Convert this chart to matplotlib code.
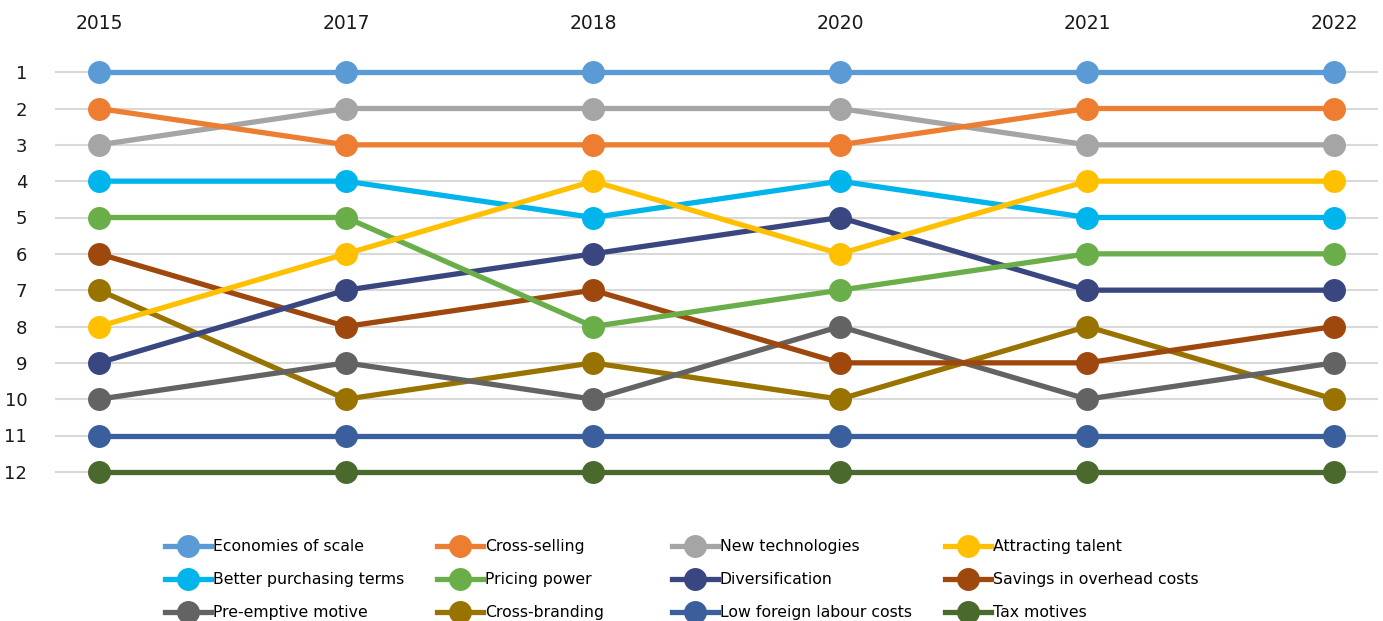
import matplotlib
matplotlib.use("Agg")
import matplotlib.pyplot as plt
from matplotlib.lines import Line2D

# Data
years = ["2015", "2017", "2018", "2020", "2021", "2022"]
ranks = list(range(1, 13))

labels = [
    "Economies of scale", "Cross-selling", "New technologies", "Attracting talent",
    "Better purchasing terms", "Pricing power", "Diversification", "Savings in overhead costs",
    "Pre-emptive motive", "Cross-branding", "Low foreign labour costs", "Tax motives",
]
economies_of_scale = [1, 1, 1, 1, 1, 1]
cross_selling = [2, 3, 3, 3, 2, 2]
new_technologies = [3, 2, 2, 2, 3, 3]
attracting_talent = [8, 6, 4, 6, 4, 4]
better_purchasing = [4, 4, 5, 4, 5, 5]
pricing_power = [5, 5, 8, 7, 6, 6]
diversification = [9, 7, 6, 5, 7, 7]
savings_overhead = [6, 8, 7, 9, 9, 8]
pre_emptive = [10, 9, 10, 8, 10, 9]
cross_branding = [7, 10, 9, 10, 8, 10]
low_foreign_labour = [11, 11, 11, 11, 11, 11]
tax_motives = [12, 12, 12, 12, 12, 12]

series = [economies_of_scale, cross_selling, new_technologies, attracting_talent,
          better_purchasing, pricing_power, diversification, savings_overhead,
          pre_emptive, cross_branding, low_foreign_labour, tax_motives]
colors = ["#5B9BD5", "#ED7D31", "#A5A5A5", "#FFC000",
          "#00B4EC", "#6AAE4A", "#3A4680", "#9E480E",
          "#636363", "#997300", "#3A5F9C", "#4A6A2D"]

plt.rcParams["font.family"] = ["DejaVu Sans"]

fig = plt.figure(figsize=(13.83, 6.21), dpi=100)
ax = fig.add_axes([55 / 1383, 1 - 490 / 621, (1378 - 55) / 1383, (490 - 54) / 621])

x = list(range(len(years)))
# draw lower ranks first so top series sit above
for vals, col in reversed(list(zip(series, colors))):
    ax.plot(x, vals, color=col, lw=3.8, marker="o", markersize=15.5,
            solid_capstyle="butt", zorder=3)

ax.set_xlim(-0.178, 5.178)
ax.set_ylim(12.5, 0.5)
ax.set_yticks(ranks)
ax.set_yticklabels([str(r) for r in ranks], fontsize=13, color="#1a1a1a")
ax.set_xticks(x)
ax.set_xticklabels(years, fontsize=13.5, color="#1a1a1a")
ax.xaxis.tick_top()
ax.tick_params(axis="x", length=0, pad=15)
ax.tick_params(axis="y", length=0, pad=20)
for s in ax.spines.values():
    s.set_visible(False)
ax.grid(axis="y", color="#D9D9D9", lw=1.5, zorder=0)
ax.set_axisbelow(True)

# legend: four columns placed individually
col_x = [165, 437, 672, 945]
for c in range(4):
    handles = []
    for r in range(3):
        i = r * 4 + c
        handles.append(Line2D([], [], color=colors[i], lw=3.8, marker="o",
                              markersize=15.5, label=labels[i]))
    fig.legend(handles=handles, loc="upper left",
               bbox_to_anchor=(col_x[c] / 1383, 1 - 539 / 621),
               frameon=False, fontsize=11.3, handlelength=2.9, handletextpad=0.15,
               labelspacing=1.15, borderpad=0, borderaxespad=0)

fig.savefig("out.png", dpi=100)
